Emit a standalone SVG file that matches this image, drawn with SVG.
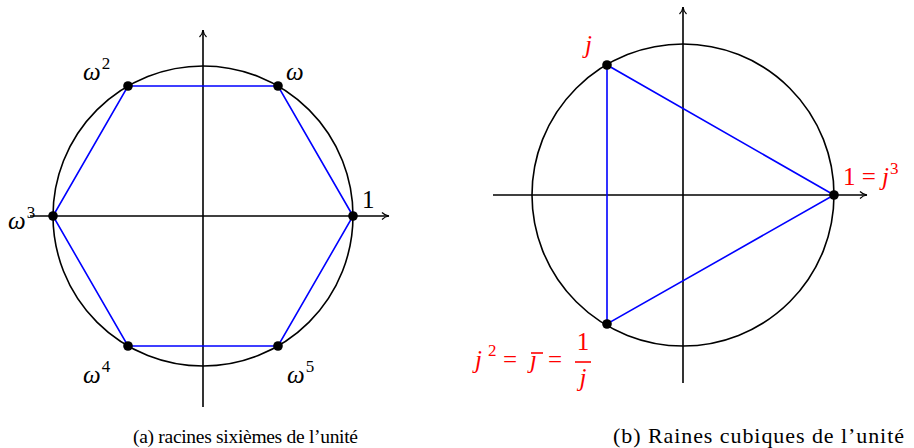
<svg xmlns="http://www.w3.org/2000/svg" width="914" height="448" viewBox="0 0 914 448">
<defs>
<marker id="arr" markerWidth="10" markerHeight="8" refX="8" refY="4" orient="auto" markerUnits="userSpaceOnUse">
<path d="M1,0.5 Q4,3.5 8,4 Q4,4.5 1,7.5" fill="none" stroke="#000" stroke-width="1.2"/>
</marker>
</defs>
<style>
.ax{stroke:#000;stroke-width:1.6;fill:none}
.circ{stroke:#000;stroke-width:1.6;fill:none}
.poly{stroke:#0000ff;stroke-width:1.6;fill:none}
.pt{fill:#000}
.lbl{font-family:"Liberation Serif",serif;font-size:25px;fill:#000}
.it{font-style:italic}
.sup{font-size:17px;font-style:normal}
.red{fill:#ff0000}
.cap{font-family:"Liberation Serif",serif;fill:#000}
</style>
<g id="connectors">
<line class="ax" x1="30" y1="216" x2="389" y2="216" marker-end="url(#arr)"/>
<line class="ax" x1="203" y1="407" x2="203" y2="30" marker-end="url(#arr)"/>
<line class="ax" x1="493" y1="195" x2="867" y2="195" marker-end="url(#arr)"/>
<line class="ax" x1="683" y1="383" x2="683" y2="7" marker-end="url(#arr)"/>
</g>
<g id="circleA"><circle class="circ" cx="203" cy="216" r="150"/></g>
<g id="hexagon"><polygon class="poly" points="353,216 278,86 128,86 53,216 128,346 278,346"/></g>
<g id="circleB"><circle class="circ" cx="683" cy="195" r="151"/></g>
<g id="triangle"><polygon class="poly" points="834,195 607,65 607,324"/></g>
<g id="p1"><circle class="pt" cx="353" cy="216" r="4.8"/><text class="lbl" x="362" y="208">1</text></g>
<g id="pw"><circle class="pt" cx="278" cy="86" r="4.8"/><text class="lbl it" x="286" y="80">ω</text></g>
<g id="pw2"><circle class="pt" cx="128" cy="86" r="4.8"/><text class="lbl it" x="83" y="80">ω<tspan class="sup" dx="1" dy="-11">2</tspan></text></g>
<g id="pw3"><circle class="pt" cx="53" cy="216" r="4.8"/><text class="lbl it" x="8" y="229">ω<tspan class="sup" dx="1" dy="-11">3</tspan></text></g>
<g id="pw4"><circle class="pt" cx="128" cy="346" r="4.8"/><text class="lbl it" x="83" y="383">ω<tspan class="sup" dx="1" dy="-11">4</tspan></text></g>
<g id="pw5"><circle class="pt" cx="278" cy="346" r="4.8"/><text class="lbl it" x="287" y="383">ω<tspan class="sup" dx="1" dy="-11">5</tspan></text></g>
<g id="pj"><circle class="pt" cx="607" cy="65" r="4.8"/><text class="lbl it red" x="585" y="53">j</text></g>
<g id="pj3"><circle class="pt" cx="834" cy="195" r="4.8"/><text class="lbl red" x="843" y="185">1 = <tspan class="it">j</tspan><tspan class="sup" dx="1" dy="-11">3</tspan></text></g>
<g id="pj2"><circle class="pt" cx="607" cy="324" r="4.8"/>
<text class="lbl it red" x="475" y="368">j</text>
<text class="lbl red" x="488" y="356" style="font-size:17px">2</text>
<text class="lbl red" x="503" y="368">=</text>
<text class="lbl it red" x="530" y="368">ȷ</text>
<line x1="531" y1="353" x2="543" y2="353" stroke="#ff0000" stroke-width="1.6"/>
<text class="lbl red" x="548" y="368">=</text>
<text class="lbl red" x="583" y="350" text-anchor="middle">1</text>
<line x1="575" y1="362" x2="591" y2="362" stroke="#ff0000" stroke-width="1.6"/>
<text class="lbl it red" x="583" y="386" text-anchor="middle">j</text>
</g>
<g id="captions">
<text class="cap" x="133" y="443" font-size="19.5" textLength="225" lengthAdjust="spacing">(a) racines sixièmes de l’unité</text>
<text class="cap" x="613" y="443" font-size="22" textLength="291" lengthAdjust="spacing">(b) Raines cubiques de l’unité</text>
</g>
</svg>
